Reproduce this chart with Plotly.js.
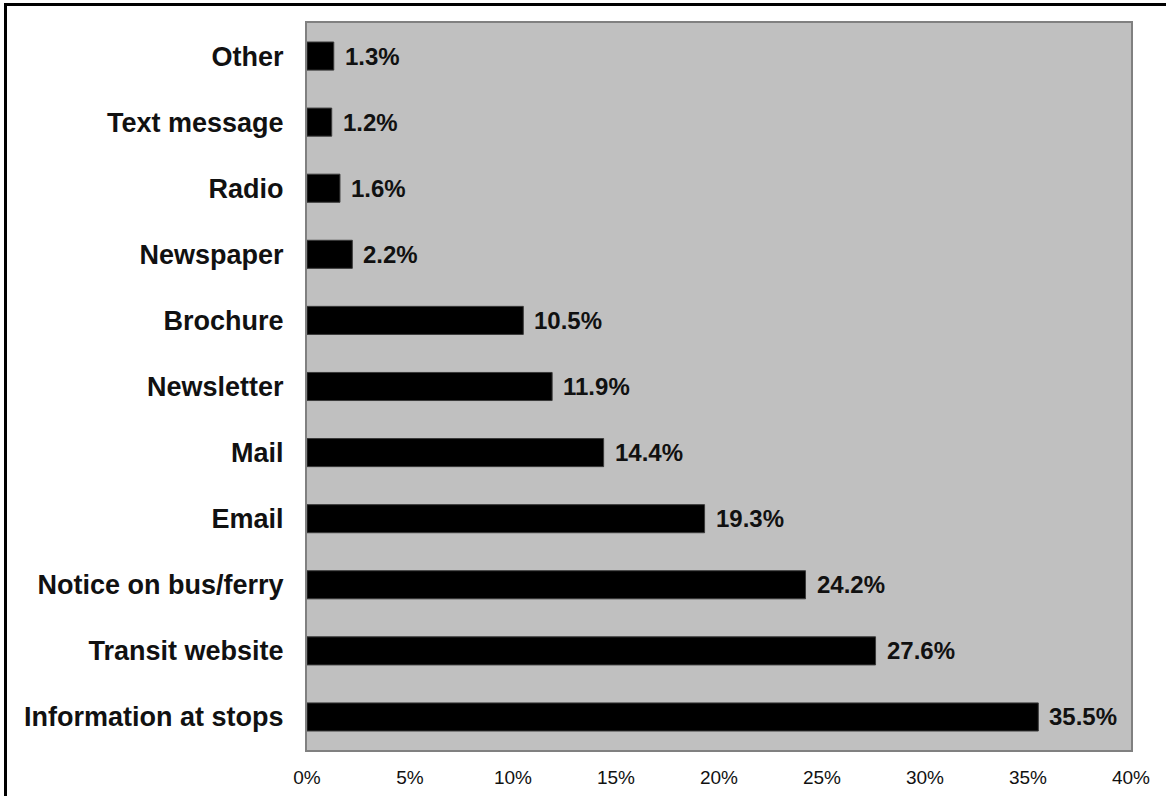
<!DOCTYPE html>
<html>
<head>
<meta charset="utf-8">
<script src="https://cdn.plot.ly/plotly-3.0.1.min.js"></script>
<style>
  html, body { margin: 0; padding: 0; overflow: hidden; background: #fff; }
  #chart { width: 1166px; height: 796px; }
  #frame { position: absolute; left: 4px; top: 3px; width: 1300px; height: 1000px;
           border: 3px solid #000; pointer-events: none; }
</style>
</head>
<body>
<div id="chart"></div>
<div id="frame"></div>
<script>
const categories = ["Other", "Text message", "Radio", "Newspaper", "Brochure", "Newsletter",
                    "Mail", "Email", "Notice on bus/ferry", "Transit website", "Information at stops"];
const values = [1.3, 1.2, 1.6, 2.2, 10.5, 11.9, 14.4, 19.3, 24.2, 27.6, 35.5];
const tickVals = [0, 5, 10, 15, 20, 25, 30, 35, 40];
const tickText = ["0%", "5%", "10%", "15%", "20%", "25%", "30%", "35%", "40%"];

const FONT = "Liberation Sans, Arial, sans-serif";

const trace = {
  type: "bar",
  orientation: "h",
  x: values,
  y: categories,
  marker: { color: "#000000", line: { color: "#3a3a3a", width: 1 } },
  hoverinfo: "skip"
};

const annotations = values.map((v, i) => ({
  x: v, y: categories[i], xref: "x", yref: "y",
  text: v.toFixed(1) + "%",
  showarrow: false, xanchor: "left", yanchor: "middle", xshift: 9,
  font: { family: FONT, size: 24, color: "#111", weight: "bold" }
}));

const layout = {
  width: 1166, height: 796,
  margin: { l: 307, r: 35, t: 23, b: 46, pad: 0 },
  paper_bgcolor: "#ffffff",
  plot_bgcolor: "#c0c0c0",
  showlegend: false,
  bargap: 0.575,
  xaxis: {
    range: [0, 40],
    tickvals: tickVals, ticktext: tickText,
    showgrid: false, zeroline: false,
    showline: true, mirror: true, linecolor: "#808080", linewidth: 2,
    ticks: "", ticklabelstandoff: 9,
    tickfont: { family: FONT, size: 19, color: "#111" },
    fixedrange: true
  },
  yaxis: {
    type: "category",
    categoryorder: "array", categoryarray: categories.slice().reverse(),
    showgrid: false, zeroline: false,
    showline: true, mirror: true, linecolor: "#808080", linewidth: 2,
    ticks: "", ticklabelstandoff: 16,
    tickfont: { family: FONT, size: 27, color: "#111", weight: "bold" },
    fixedrange: true
  },
  annotations: annotations
};

Plotly.newPlot("chart", [trace], layout, { displayModeBar: false, staticPlot: true });
</script>
</body>
</html>
